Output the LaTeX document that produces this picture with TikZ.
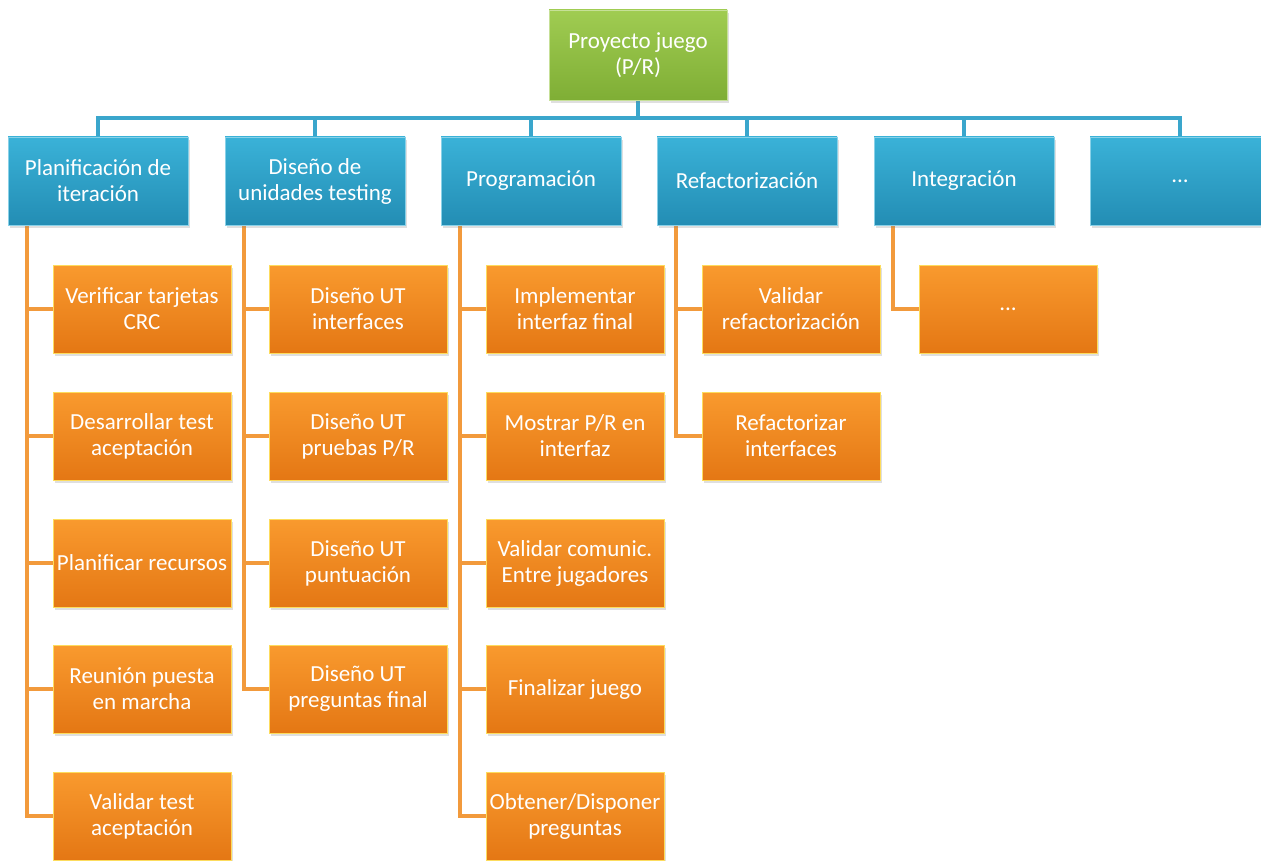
\documentclass[tikz,border=0pt]{standalone}
\usepackage{fontspec}
\setmainfont{Carlito}
\usetikzlibrary{shadows,backgrounds}
\definecolor{grnT}{HTML}{A0CC52}
\definecolor{grnB}{HTML}{7FAE35}
\definecolor{bluT}{HTML}{3AB2D8}
\definecolor{bluB}{HTML}{238DB4}
\definecolor{orgT}{HTML}{F99A2E}
\definecolor{orgB}{HTML}{E47714}
\definecolor{bluLine}{HTML}{3AA6CC}
\definecolor{orgLine}{HTML}{F29A3C}
\tikzset{
  box/.style={rectangle, inner sep=0pt, outer sep=0pt, align=center,
    text=white, font=\fontsize{23}{26}\selectfont,
    drop shadow={shadow xshift=2pt, shadow yshift=-3pt, opacity=0.25}},
  rootbox/.style={box, minimum width=178pt, minimum height=90pt,
    top color=grnT, bottom color=grnB, draw=grnT!60!white, line width=0.8pt},
  phasebox/.style={box, minimum width=180pt, minimum height=88pt,
    top color=bluT, bottom color=bluB, draw=bluT!60!white, line width=0.8pt},
  taskbox/.style={box, minimum width=178pt, minimum height=88pt,
    top color=orgT, bottom color=orgB, draw=orgT!50!yellow!70!white, line width=0.8pt},
  bline/.style={draw=bluLine, line width=3.5pt},
  oline/.style={draw=orgLine, line width=3.5pt},
}
\begin{document}
\begin{tikzpicture}[x=1pt,y=-1pt]
\useasboundingbox (0,0) rectangle (1261,861);
\clip (0,0) rectangle (1261,861);

% root
\node[rootbox] (root) at (638,55) {Proyecto juego\\(P/R)};

% phases
\node[phasebox] (b1) at (98,181)  {Planificación de\\iteración};
\node[phasebox] (b2) at (315,181) {Diseño de\\unidades testing};
\node[phasebox] (b3) at (531,181) {Programación};
\node[phasebox] (b4) at (747,181) {Refactorización};
\node[phasebox] (b5) at (964,181) {Integración};
\node[phasebox] (b6) at (1180,181) {...};

% tasks: column 1
\node[taskbox] (t11) at (142,309) {Verificar tarjetas\\CRC};
\node[taskbox] (t12) at (142,436) {Desarrollar test\\aceptación};
\node[taskbox] (t13) at (142,563) {Planificar recursos};
\node[taskbox] (t14) at (142,689) {Reunión puesta\\en marcha};
\node[taskbox] (t15) at (142,816) {Validar test\\aceptación};
% column 2
\node[taskbox] (t21) at (358,309) {Diseño UT\\interfaces};
\node[taskbox] (t22) at (358,436) {Diseño UT\\pruebas P/R};
\node[taskbox] (t23) at (358,563) {Diseño UT\\puntuación};
\node[taskbox] (t24) at (358,689) {Diseño UT\\preguntas final};
% column 3
\node[taskbox] (t31) at (575,309) {Implementar\\interfaz final};
\node[taskbox] (t32) at (575,436) {Mostrar P/R en\\interfaz};
\node[taskbox] (t33) at (575,563) {Validar comunic.\\Entre jugadores};
\node[taskbox] (t34) at (575,689) {Finalizar juego};
\node[taskbox] (t35) at (575,816) {Obtener/Disponer\\preguntas};
% column 4
\node[taskbox] (t41) at (791,309) {Validar\\refactorización};
\node[taskbox] (t42) at (791,436) {Refactorizar\\interfaces};
% column 5
\node[taskbox] (t51) at (1008,309) {...};

\begin{scope}[on background layer]
  % blue tree: root to the phase row
  \coordinate (bus) at (0,118);
  \draw[bline] (root.south) -- (root.south |- bus);
  \draw[bline] (b1.north) |- (b6.north |- bus) -- (b6.north);
  \foreach \b in {b2,b3,b4,b5}
    \draw[bline] (\b.north) -- (\b.north |- bus);
  % orange trees: each phase to its tasks
  \foreach \b/\tl in {b1/{t11,t12,t13,t14,t15}, b2/{t21,t22,t23,t24},
                      b3/{t31,t32,t33,t34,t35}, b4/{t41,t42}, b5/{t51}}
    \foreach \t in \tl
      \draw[oline] ([xshift=19pt]\b.south west) |- (\t.west);
\end{scope}
\end{tikzpicture}
\end{document}
